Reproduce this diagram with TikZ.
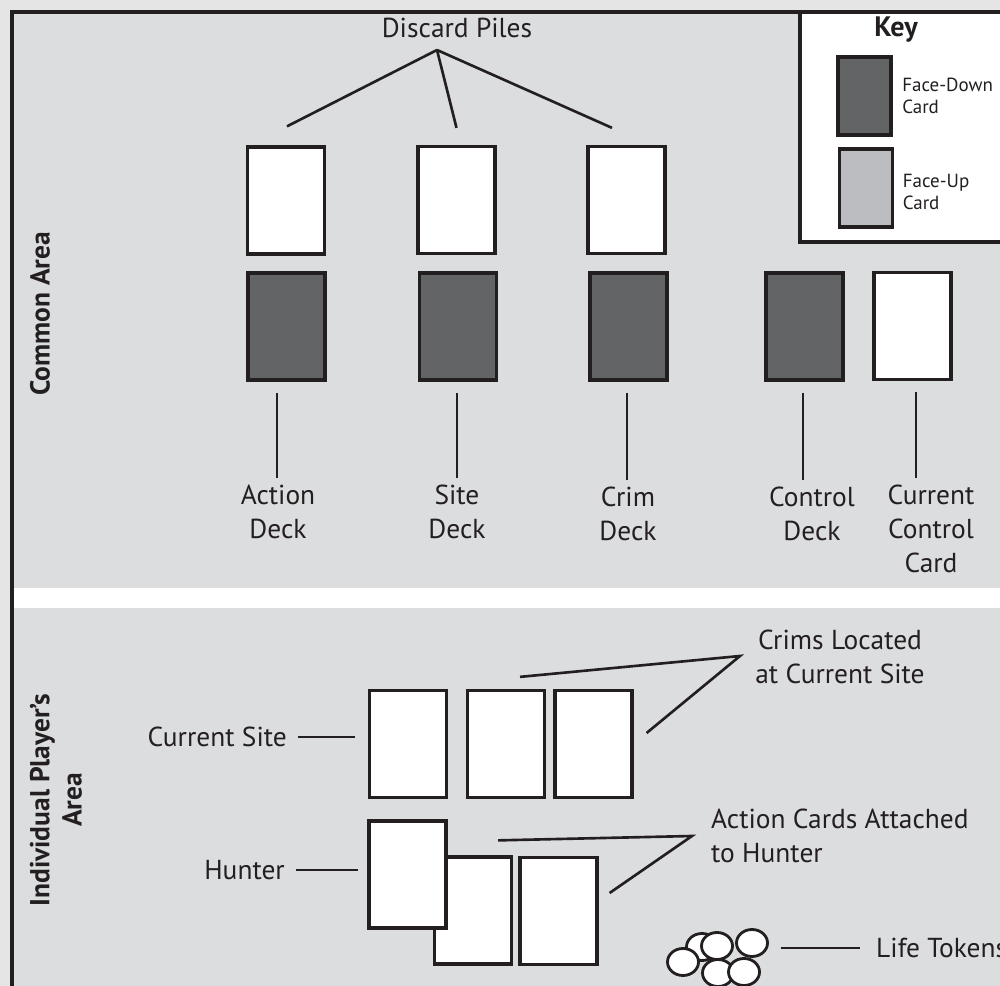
\documentclass[tikz,border=0pt]{standalone}
\usepackage{fontspec}
\setmainfont{PT Sans}
\usepackage{xcolor}
\usetikzlibrary{shapes.geometric, positioning}

\definecolor{outergrey}{HTML}{E5E5E5}
\definecolor{panelgrey}{HTML}{DCDDDF}
\definecolor{downgrey}{HTML}{636466}
\definecolor{upgrey}{HTML}{BCBDC0}
\definecolor{ink}{HTML}{231F20}

\begin{document}
\begin{tikzpicture}[
  x=0.01cm, y=-0.01cm,
  card/.style={draw=ink, line width=0.9pt, inner sep=0pt, minimum width=0.77cm,
               minimum height=1.07cm, fill=white},
  downcard/.style={card, fill=downgrey},
  keycard/.style={draw=ink, line width=0.9pt, inner sep=0pt, minimum width=0.53cm,
                  minimum height=0.78cm},
  token/.style={ellipse, draw=ink, line width=0.8pt, fill=white, inner sep=0pt,
                minimum width=0.31cm, minimum height=0.27cm},
  lbl/.style={text=ink, font=\fontsize{7.8}{9.6}\selectfont, align=center, inner sep=1pt},
  arealbl/.style={lbl, font=\bfseries\fontsize{7.8}{9.2}\selectfont, rotate=90},
  keylbl/.style={text=ink, font=\fontsize{5.4}{6.4}\selectfont, align=left, inner sep=0pt},
  lead/.style={draw=ink, line width=0.75pt}
]
  % page and panels
  \fill[outergrey] (0,0) rectangle (1000,986);
  \useasboundingbox (0,0) rectangle (1000,986);
  \fill[panelgrey] (12,12) rectangle (1000,588);
  \fill[white] (12,588) rectangle (1000,608);
  \fill[panelgrey] (12,608) rectangle (1000,986);
  \draw[draw=ink, line width=1.1pt] (12,990) -- (12,12) -- (1005,12);

  % Key
  \draw[draw=ink, line width=0.9pt, fill=white] (800,12) rectangle (1010,242);
  \node[text=ink, font=\bfseries\fontsize{8}{9}\selectfont] (keyttl) at (896,30) {Key};
  \node[keycard, fill=downgrey] (keydown) at (864.5,96) {};
  \node[keycard, fill=upgrey] (keyup) at (866,188) {};
  \node[keylbl, anchor=west, right=0.09cm of keydown] (keydowntxt) {Face-Down\\Card};
  \node[keylbl, anchor=west, right=0.08cm of keyup, yshift=-0.04cm] (keyuptxt) {Face-Up\\Card};

  % Area labels
  \node[arealbl] (commonlbl) at (40,314) {Common Area};
  \node[arealbl] (playerlbl) at (56,800) {Individual Player's\\Area};

  % Discard piles
  \node[card] (discA) at (286,200.5) {};
  \node[card] (discB) at (456.5,200) {};
  \node[card] (discC) at (626.5,200) {};
  \node[lbl] (discpiles) at (457,28) {Discard Piles};
  \coordinate (discjoin) at (437,50);
  \draw[lead] (discjoin) -- ([xshift=0.01cm,yshift=0.19cm]discA.north);
  \draw[lead] (discjoin) -- ([yshift=0.17cm]discB.north);
  \draw[lead] (discjoin) -- ([xshift=-0.145cm,yshift=0.17cm]discC.north);

  % Decks
  \node[downcard] (actdeck) at (286.5,326.5) {};
  \node[downcard] (sitedeck) at (458,326.5) {};
  \node[downcard] (crimdeck) at (628.5,326.5) {};
  \node[downcard] (ctldeck) at (804.5,326.5) {};
  \node[card] (curctl) at (912.5,326) {};

  \node[lbl, anchor=north] (actlbl) at (278,481) {Action\\Deck};
  \node[lbl, anchor=north] (sitelbl) at (457,481) {Site\\Deck};
  \node[lbl, anchor=north] (crimlbl) at (628,483) {Crim\\Deck};
  \node[lbl, anchor=north] (ctllbl) at (812,483) {Control\\Deck};
  \node[lbl, anchor=north] (curlbl) at (931,481) {Current\\Control\\Card};

  \coordinate (actlead) at ([xshift=-0.095cm,yshift=-0.11cm]actdeck.south);
  \coordinate (sitelead) at ([xshift=-0.01cm,yshift=-0.11cm]sitedeck.south);
  \coordinate (crimlead) at ([xshift=-0.015cm,yshift=-0.11cm]crimdeck.south);
  \coordinate (ctllead) at ([xshift=-0.015cm,yshift=-0.11cm]ctldeck.south);
  \coordinate (curlead) at ([xshift=0.035cm,yshift=-0.11cm]curctl.south);
  \draw[lead, shorten >=0.03cm] (actlead) -- (actlead |- actlbl.north);
  \draw[lead, shorten >=0.03cm] (sitelead) -- (sitelead |- sitelbl.north);
  \draw[lead, shorten >=0.03cm] (crimlead) -- (crimlead |- crimlbl.north);
  \draw[lead, shorten >=0.03cm] (ctllead) -- (ctllead |- ctllbl.north);
  \draw[lead, shorten >=0.03cm] (curlead) -- (curlead |- curlbl.north);

  % Current site and crims
  \node[card] (cursite) at (408,744) {};
  \node[card] (crimA) at (506,744) {};
  \node[card] (crimB) at (593.5,744) {};
  \node[lbl, anchor=east] (cursitelbl) at (291,737) {Current Site};
  \draw[lead, shorten <=0.07cm, shorten >=0.13cm] (cursitelbl.east) -- (cursite.west |- cursitelbl.east);
  \node[lbl] (crimslbl) at (840,657) {Crims Located\\at Current Site};
  \coordinate (crimjoin) at (740,656);
  \draw[lead] ([xshift=0.14cm,yshift=0.12cm]crimA.north) -- (crimjoin)
    -- ([xshift=0.13cm,yshift=0.11cm]crimB.east);

  % Hunter and attached action cards
  \node[card] (attA) at (473,910.5) {};
  \node[card] (attB) at (558.5,911) {};
  \node[card] (hunter) at (407.5,874.5) {};
  \node[lbl, anchor=east] (hunterlbl) at (289,870) {Hunter};
  \draw[lead, shorten <=0.07cm, shorten >=0.09cm] (hunterlbl.east) -- (hunter.west |- hunterlbl.east);
  \node[lbl, align=left, anchor=west] (attlbl) at (707,836) {Action Cards Attached\\to Hunter};
  \coordinate (attjoin) at (692,836);
  \draw[lead] ([xshift=0.25cm,yshift=0.15cm]attA.north) -- (attjoin)
    -- ([xshift=0.11cm,yshift=0.18cm]attB.east);

  % Life tokens
  \node[token] (tokB) at (702,947) {};
  \node[token] (tokE) at (718,973) {};
  \node[token] (tokF) at (744,972) {};
  \node[token] (tokD) at (752,943) {};
  \node[token] (tokC) at (717,946) {};
  \node[token] (tokA) at (683,962) {};
  \node[lbl, anchor=west] (lifelbl) at (872,948) {Life Tokens};
  \draw[lead, shorten <=0.12cm, shorten >=0.12cm] (tokD.east |- lifelbl.west) -- (lifelbl.west);
\end{tikzpicture}
\end{document}
